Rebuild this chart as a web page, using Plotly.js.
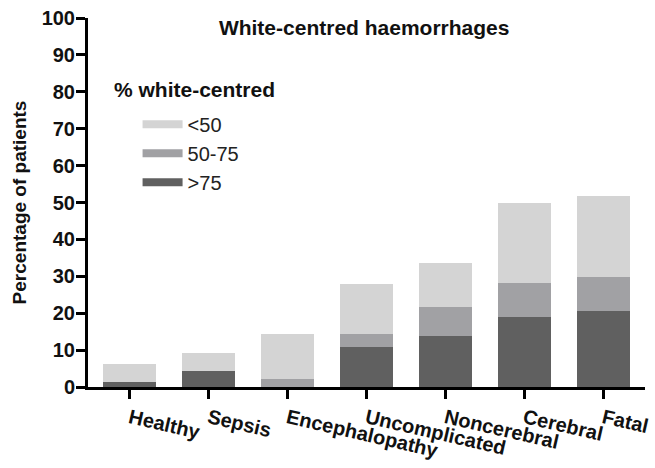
<!DOCTYPE html>
<html>
<head>
<meta charset="utf-8">
<script src="https://cdn.plot.ly/plotly-3.0.1.min.js"></script>
<style>
html,body{margin:0;padding:0;background:#fff;}
#chart{width:655px;height:468px;}
</style>
</head>
<body>
<div id="chart"></div>
<script>
// ---- data ----
var categories = ['Healthy', 'Sepsis', 'Encephalopathy', 'Uncomplicated', 'Noncerebral', 'Cerebral', 'Fatal'];
var seriesNames = ['<50', '50-75', '>75'];
var over75 = [1.3, 4.4, 0, 10.9, 13.8, 19.0, 20.5];
var from50to75 = [0, 0, 2.2, 3.4, 7.9, 9.1, 9.2];
var under50 = [4.8, 4.7, 12.1, 13.6, 11.8, 21.8, 22.1];
var yTicks = [0, 10, 20, 30, 40, 50, 60, 70, 80, 90, 100];

// ---- style ----
var FONT = 'Arial, "Liberation Sans", Helvetica, sans-serif';
var colors = {'<50': '#d4d4d4', '50-75': '#a1a1a4', '>75': '#606060'};
var seriesValues = {'<50': under50, '50-75': from50to75, '>75': over75};

var traces = [];
// stacked bars: bottom to top
['>75', '50-75', '<50'].forEach(function (name) {
  traces.push({
    type: 'bar',
    name: name,
    x: categories,
    y: seriesValues[name],
    marker: {color: colors[name], line: {width: 0}},
    width: 0.67,
    showlegend: false,
    legendgroup: name,
    hoverinfo: 'skip'
  });
});
// legend entries drawn as wide swatches
seriesNames.forEach(function (name) {
  traces.push({
    type: 'scatter',
    mode: 'lines',
    name: name,
    x: [null],
    y: [null],
    line: {color: colors[name], width: 8},
    legendgroup: name,
    showlegend: true,
    hoverinfo: 'skip'
  });
});

var layout = {
  width: 655,
  height: 468,
  margin: {l: 88, r: 10, t: 18, b: 81, pad: 0},
  paper_bgcolor: '#ffffff',
  plot_bgcolor: '#ffffff',
  barmode: 'stack',
  font: {family: FONT, color: '#111111'},
  title: {
    text: 'White-centred haemorrhages',
    font: {family: FONT, size: 21, weight: 'bold', color: '#111111'},
    x: 0.556, xref: 'container', xanchor: 'center',
    y: 0.940, yref: 'container', yanchor: 'middle'
  },
  xaxis: {
    type: 'category',
    range: [-0.53, 6.53],
    showgrid: false,
    zeroline: false,
    showline: true,
    linecolor: '#000000',
    linewidth: 3,
    ticks: 'outside',
    ticklen: 9,
    tickwidth: 3,
    tickcolor: '#000000',
    tickangle: 13,
    tickfont: {family: FONT, size: 20, weight: 'bold', color: '#111111'},
    automargin: false,
    fixedrange: true
  },
  yaxis: {
    range: [0, 100],
    tickmode: 'array',
    tickvals: yTicks,
    ticktext: yTicks.map(String),
    showgrid: false,
    zeroline: false,
    showline: true,
    linecolor: '#000000',
    linewidth: 3,
    ticks: 'outside',
    ticklen: 9,
    tickwidth: 3,
    tickcolor: '#000000',
    ticklabelstandoff: -3,
    tickfont: {family: FONT, size: 20, weight: 'bold', color: '#111111'},
    title: {
      text: 'Percentage of patients',
      font: {family: FONT, size: 19, weight: 'bold', color: '#111111'},
      standoff: 10
    },
    automargin: false,
    fixedrange: true
  },
  showlegend: true,
  legend: {
    x: 0.089, xanchor: 'left',
    y: 0.765, yanchor: 'top',
    bgcolor: 'rgba(0,0,0,0)',
    borderwidth: 0,
    traceorder: 'normal',
    font: {family: FONT, size: 20, color: '#222222'},
    itemwidth: 40
  },
  annotations: [{
    text: '% white-centred',
    xref: 'paper', yref: 'paper',
    x: 0.043, y: 0.805,
    xanchor: 'left', yanchor: 'middle',
    showarrow: false,
    font: {family: FONT, size: 21, weight: 'bold', color: '#111111'}
  }]
};

Plotly.newPlot('chart', traces, layout, {staticPlot: true, displayModeBar: false});
</script>
</body>
</html>
